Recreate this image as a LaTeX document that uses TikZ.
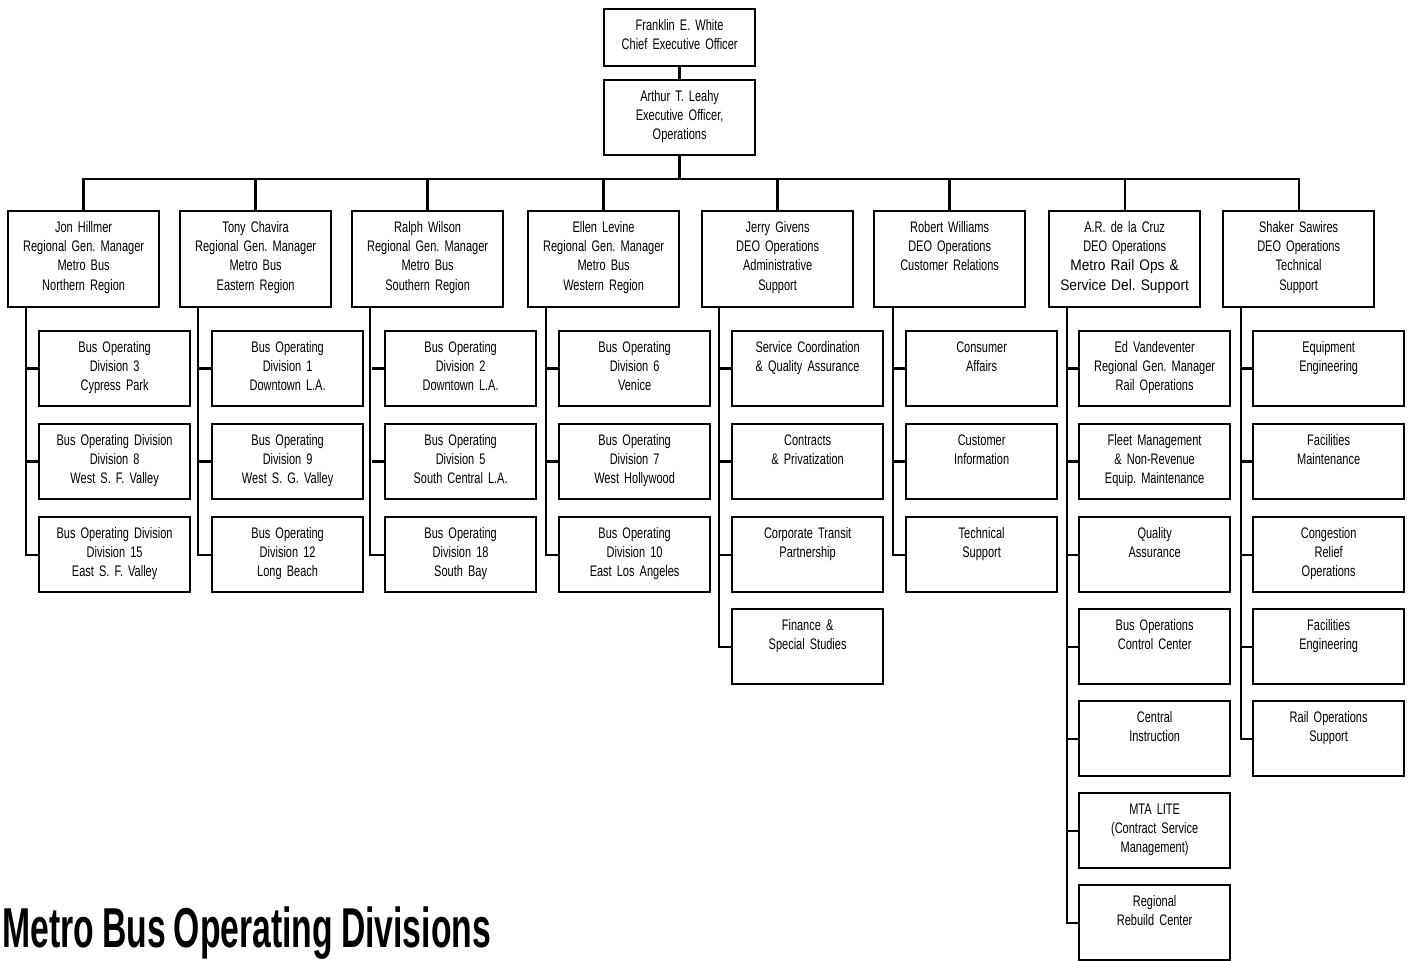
\documentclass[tikz,border=0pt]{standalone}
\usepackage{fontspec}
\setmainfont{Liberation Sans}[FakeStretch=0.72]
\newfontfamily\widefont{Liberation Sans}[FakeStretch=0.9]
\newfontfamily\titlefont{Liberation Sans}[FakeStretch=0.6, WordSpace=0.85]

\tikzset{
  chart/.style={draw, line width=1.3pt, anchor=north west, inner xsep=0.06cm, inner ysep=0pt,
    text width=2.9cm, align=center, text height=0.42cm, font=\fontsize{8.7}{11}\selectfont\frenchspacing},
  boss/.style={chart, text depth=0.72cm},
  head/.style={chart, text depth=1.5cm},
  unit/.style={chart, text depth=1.08cm},
  link/.style={line width=1.3pt},
}

\begin{document}
\begin{tikzpicture}[x=0.02cm, y=-0.02cm]
    \useasboundingbox (0,0) rectangle (1409,960);
    % top of the chart
    \node[boss] (ceo) at (603,8) {Franklin E. White\\Chief Executive Officer};
    \node[unit] (eo) at (603,79) {Arthur T. Leahy\\Executive Officer,\\Operations};
    \coordinate (bus) at (0,179);

    % second level
    \node[head] (hn) at (7,210) {Jon Hillmer\\Regional Gen. Manager\\Metro Bus\\Northern Region};
    \node[head] (he) at (179,210) {Tony Chavira\\Regional Gen. Manager\\Metro Bus\\Eastern Region};
    \node[head] (hs) at (351,210) {Ralph Wilson\\Regional Gen. Manager\\Metro Bus\\Southern Region};
    \node[head] (hw) at (527,210) {Ellen Levine\\Regional Gen. Manager\\Metro Bus\\Western Region};
    \node[head] (ha) at (701,210) {Jerry Givens\\DEO Operations\\Administrative\\Support};
    \node[head] (hc) at (873,210) {Robert Williams\\DEO Operations\\Customer Relations};
    \node[head] (hr) at (1048,210) {A.R. de la Cruz\\DEO Operations\\{\widefont Metro Rail Ops \&}\\{\widefont Service Del. Support}};
    \node[head] (ht) at (1222,210) {Shaker Sawires\\DEO Operations\\Technical\\Support};

    % bus divisions
    \node[unit] (n1) at (38,330) {Bus Operating\\Division 3\\Cypress Park};
    \node[unit] (n2) at (38,423) {Bus Operating Division\\Division 8\\West S. F. Valley};
    \node[unit] (n3) at (38,516) {Bus Operating Division\\Division 15\\East S. F. Valley};
    \node[unit] (e1) at (211,330) {Bus Operating\\Division 1\\Downtown L.A.};
    \node[unit] (e2) at (211,423) {Bus Operating\\Division 9\\West S. G. Valley};
    \node[unit] (e3) at (211,516) {Bus Operating\\Division 12\\Long Beach};
    \node[unit] (s1) at (384,330) {Bus Operating\\Division 2\\Downtown L.A.};
    \node[unit] (s2) at (384,423) {Bus Operating\\Division 5\\South Central L.A.};
    \node[unit] (s3) at (384,516) {Bus Operating\\Division 18\\South Bay};
    \node[unit] (w1) at (558,330) {Bus Operating\\Division 6\\Venice};
    \node[unit] (w2) at (558,423) {Bus Operating\\Division 7\\West Hollywood};
    \node[unit] (w3) at (558,516) {Bus Operating\\Division 10\\East Los Angeles};

    % staff units
    \node[unit] (a1) at (731,330) {Service Coordination\\\& Quality Assurance};
    \node[unit] (a2) at (731,423) {Contracts\\\& Privatization};
    \node[unit] (a3) at (731,516) {Corporate Transit\\Partnership};
    \node[unit] (a4) at (731,608) {Finance \&\\Special Studies};
    \node[unit] (c1) at (905,330) {Consumer\\Affairs};
    \node[unit] (c2) at (905,423) {Customer\\Information};
    \node[unit] (c3) at (905,516) {Technical\\Support};
    \node[unit] (r1) at (1078,330) {Ed Vandeventer\\Regional Gen. Manager\\Rail Operations};
    \node[unit] (r2) at (1078,423) {Fleet Management\\\& Non-Revenue\\Equip. Maintenance};
    \node[unit] (r3) at (1078,516) {Quality\\Assurance};
    \node[unit] (r4) at (1078,608) {Bus Operations\\Control Center};
    \node[unit] (r5) at (1078,700) {Central\\Instruction};
    \node[unit] (r6) at (1078,792) {MTA LITE\\(Contract Service\\Management)};
    \node[unit] (r7) at (1078,884) {Regional\\Rebuild Center};
    \node[unit] (t1) at (1252,330) {Equipment\\Engineering};
    \node[unit] (t2) at (1252,423) {Facilities\\Maintenance};
    \node[unit] (t3) at (1252,516) {Congestion\\Relief\\Operations};
    \node[unit] (t4) at (1252,608) {Facilities\\Engineering};
    \node[unit] (t5) at (1252,700) {Rail Operations\\Support};

    \node[font=\titlefont\bfseries\fontsize{32}{32}\selectfont, anchor=base west, inner sep=0pt] (title) at (2,947) {Metro Bus Operating Divisions};

    % connectors
    \draw[link] (ceo) -- (eo);
    \draw[link] (eo) -- (eo |- bus);
    \draw[link] (hn) -- (hn |- bus) -- (ht |- bus) -- (ht);
    \draw[link] (he) -- (he |- bus);
    \draw[link] (hs) -- (hs |- bus);
    \draw[link] (hw) -- (hw |- bus);
    \draw[link] (ha) -- (ha |- bus);
    \draw[link] (hc) -- (hc |- bus);
    \draw[link] (hr) -- (hr |- bus);

    \draw[link] ([xshift=0.38cm]hn.south west) |- (n3.west);
    \draw[link] (n1.west) -- ++(-0.24cm,0);
    \draw[link] (n2.west) -- ++(-0.24cm,0);
    \draw[link] ([xshift=0.38cm]he.south west) |- (e3.west);
    \draw[link] (e1.west) -- ++(-0.24cm,0);
    \draw[link] (e2.west) -- ++(-0.24cm,0);
    \draw[link] ([xshift=0.38cm]hs.south west) |- (s3.west);
    \draw[link] (s1.west) -- ++(-0.24cm,0);
    \draw[link] (s2.west) -- ++(-0.24cm,0);
    \draw[link] ([xshift=0.38cm]hw.south west) |- (w3.west);
    \draw[link] (w1.west) -- ++(-0.24cm,0);
    \draw[link] (w2.west) -- ++(-0.24cm,0);
    \draw[link] ([xshift=0.36cm]ha.south west) |- (a4.west);
    \draw[link] (a1.west) -- ++(-0.24cm,0);
    \draw[link] (a2.west) -- ++(-0.24cm,0);
    \draw[link] (a3.west) -- ++(-0.24cm,0);
    \draw[link] ([xshift=0.4cm]hc.south west) |- (c3.west);
    \draw[link] (c1.west) -- ++(-0.24cm,0);
    \draw[link] (c2.west) -- ++(-0.24cm,0);
    \draw[link] ([xshift=0.38cm]hr.south west) |- (r7.west);
    \draw[link] (r1.west) -- ++(-0.22cm,0);
    \draw[link] (r2.west) -- ++(-0.22cm,0);
    \draw[link] (r3.west) -- ++(-0.22cm,0);
    \draw[link] (r4.west) -- ++(-0.22cm,0);
    \draw[link] (r5.west) -- ++(-0.22cm,0);
    \draw[link] (r6.west) -- ++(-0.22cm,0);
    \draw[link] ([xshift=0.38cm]ht.south west) |- (t5.west);
    \draw[link] (t1.west) -- ++(-0.22cm,0);
    \draw[link] (t2.west) -- ++(-0.22cm,0);
    \draw[link] (t3.west) -- ++(-0.22cm,0);
    \draw[link] (t4.west) -- ++(-0.22cm,0);
\end{tikzpicture}
\end{document}
